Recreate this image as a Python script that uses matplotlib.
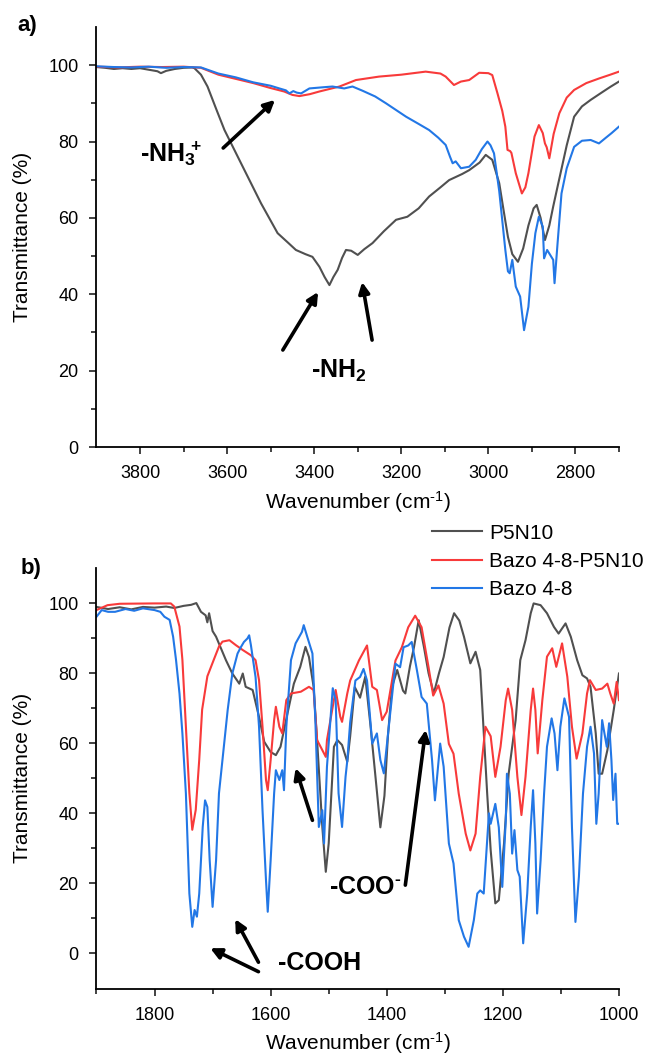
import numpy as np
import matplotlib
matplotlib.use('Agg')
import matplotlib.pyplot as plt
from matplotlib.ticker import FixedLocator

plt.rcParams['font.family'] = ['Liberation Sans', 'DejaVu Sans']
plt.rcParams['mathtext.default'] = 'regular'

# ---- panel a) 3900-2700 cm-1 ----
wn_a_p5n10 = [3900, 3880, 3860, 3840, 3820, 3800, 3780, 3760, 3752, 3740, 3720, 3700, 3680, 3675,
              3660, 3645, 3625, 3606, 3568, 3522, 3484, 3460, 3442, 3420, 3404, 3388, 3376, 3365,
              3356, 3346, 3336, 3327, 3315, 3300, 3285, 3266, 3240, 3212, 3186, 3160, 3136, 3110,
              3090, 3060, 3044, 3020, 3006, 2991, 2975, 2965, 2955, 2945, 2932, 2920, 2908, 2896,
              2889, 2880, 2870, 2860, 2851, 2841, 2820, 2803, 2785, 2765, 2740, 2720, 2700]
t_a_p5n10 = [99.5, 99.3, 99.0, 99.2, 99.0, 99.2, 98.8, 98.4, 97.9, 98.5, 99.0, 99.3, 99.4, 99.2,
             97.5, 94.4, 88.5, 83.0, 74.3, 63.8, 56.0, 53.5, 51.6, 50.5, 49.8, 47.2, 44.5, 42.4,
             44.5, 46.4, 49.5, 51.6, 51.4, 50.3, 51.8, 53.4, 56.5, 59.5, 60.3, 62.5, 65.6, 68.0,
             69.9, 71.5, 72.5, 74.5, 76.5, 75.2, 69.1, 62.0, 55.0, 50.5, 48.5, 52.0, 58.0, 62.5,
             63.4, 60.0, 54.2, 58.0, 63.0, 68.2, 79.0, 86.5, 89.2, 90.9, 92.8, 94.3, 95.7]

wn_a_mix = [3900, 3850, 3800, 3750, 3700, 3660, 3620, 3580, 3540, 3500, 3469, 3450, 3434, 3410,
            3388, 3342, 3304, 3251, 3200, 3144, 3110, 3098, 3079, 3063, 3044, 3021, 3000, 2991,
            2979, 2968, 2961, 2956, 2950, 2947, 2937, 2923, 2915, 2908, 2894, 2884, 2875, 2870,
            2866, 2860, 2850, 2837, 2820, 2803, 2775, 2746, 2720, 2700]
t_a_mix = [99.6, 99.4, 99.6, 99.5, 99.6, 99.3, 97.5, 96.4, 95.3, 94.0, 93.1, 92.2, 91.9, 92.4,
           93.1, 94.4, 96.1, 97.0, 97.5, 98.3, 97.8, 97.0, 94.8, 95.7, 96.1, 98.0, 97.9, 97.4,
           92.6, 88.0, 83.9, 77.8, 77.5, 77.0, 71.7, 66.4, 68.0, 71.7, 81.3, 84.3, 82.2, 79.5,
           78.5, 75.6, 82.0, 87.4, 91.5, 93.5, 95.3, 96.5, 97.5, 98.3]

wn_a_bazo = [3900, 3860, 3820, 3780, 3740, 3700, 3660, 3620, 3580, 3540, 3500, 3480, 3465, 3457,
             3448, 3440, 3430, 3411, 3380, 3358, 3331, 3312, 3289, 3260, 3235, 3189, 3160, 3136,
             3115, 3098, 3088, 3082, 3075, 3063, 3044, 3029, 3015, 3002, 2995, 2987, 2975, 2961,
             2955, 2951, 2945, 2937, 2927, 2918, 2908, 2900, 2892, 2884, 2875, 2872, 2865, 2851,
             2848, 2841, 2832, 2820, 2803, 2785, 2765, 2746, 2730, 2717, 2700]
t_a_bazo = [99.7, 99.5, 99.4, 99.6, 99.3, 99.5, 99.4, 97.8, 96.8, 95.5, 94.6, 93.9, 93.4, 92.6,
            93.2, 92.8, 92.6, 93.9, 94.2, 94.4, 93.9, 94.4, 93.3, 91.8, 90.0, 86.5, 84.6, 83.0,
            81.0, 79.1, 76.0, 74.3, 74.8, 73.0, 73.4, 75.2, 78.0, 80.0, 79.0, 76.9, 67.0, 51.6,
            46.0, 45.5, 49.0, 42.0, 39.4, 30.6, 36.7, 48.0, 56.0, 60.3, 57.7, 49.4, 51.6, 49.0,
            42.9, 53.4, 66.4, 73.0, 78.6, 80.2, 80.4, 79.5, 81.0, 82.2, 83.9]

# ---- panel b) 1900-1000 cm-1 ----
wn_b_p5n10 = [1900, 1880, 1860, 1840, 1820, 1800, 1780, 1766, 1750, 1737, 1728, 1720, 1712, 1709,
              1706, 1700, 1694, 1677, 1666, 1654, 1648, 1643, 1631, 1620, 1611, 1600, 1591, 1583,
              1571, 1560, 1549, 1540, 1534, 1526, 1520, 1511, 1505, 1500, 1491, 1485, 1477, 1468,
              1463, 1455, 1446, 1437, 1428, 1418, 1411, 1404, 1398, 1391, 1382, 1372, 1368, 1360,
              1353, 1345, 1336, 1328, 1319, 1310, 1302, 1292, 1284, 1275, 1267, 1256, 1247, 1239,
              1227, 1221, 1213, 1207, 1198, 1190, 1178, 1170, 1161, 1152, 1147, 1135, 1124, 1112,
              1104, 1092, 1083, 1072, 1063, 1055, 1049, 1040, 1035, 1029, 1020, 1009, 1000]
t_b_p5n10 = [98.9, 98.3, 98.8, 98.2, 98.9, 98.7, 99.0, 98.6, 99.2, 99.5, 100.0, 97.5, 96.5, 94.5,
             97.1, 92.0, 90.4, 83.7, 79.9, 77.0, 79.9, 76.1, 75.2, 67.5, 60.4, 57.5, 56.6, 59.0,
             68.5, 77.0, 81.8, 87.5, 84.6, 76.1, 60.9, 36.1, 23.3, 31.4, 59.0, 60.9, 59.5, 54.7,
             62.0, 76.0, 73.0, 79.0, 65.0, 48.0, 36.0, 45.0, 62.0, 76.0, 80.9, 75.0, 74.2, 82.0,
             87.5, 95.1, 87.5, 80.0, 74.2, 80.0, 84.6, 93.0, 97.1, 95.0, 90.4, 82.8, 86.1, 80.9,
             45.6, 29.5, 14.3, 15.2, 31.4, 51.3, 66.6, 83.7, 89.4, 97.1, 99.9, 99.4, 97.1, 93.2,
             91.3, 94.2, 90.4, 83.7, 79.4, 78.5, 76.1, 62.8, 51.3, 51.3, 58.0, 69.5, 79.9]

wn_b_mix = [1900, 1881, 1860, 1800, 1772, 1766, 1757, 1752, 1746, 1740, 1735, 1729, 1723, 1718,
            1709, 1698, 1689, 1683, 1671, 1660, 1648, 1634, 1626, 1620, 1614, 1608, 1605, 1600,
            1594, 1591, 1585, 1580, 1573, 1565, 1548, 1534, 1526, 1520, 1514, 1505, 1503, 1494,
            1488, 1480, 1477, 1468, 1463, 1448, 1434, 1425, 1417, 1408, 1400, 1385, 1374, 1363,
            1351, 1340, 1328, 1320, 1311, 1302, 1293, 1285, 1276, 1264, 1256, 1247, 1239, 1230,
            1221, 1213, 1204, 1195, 1191, 1184, 1175, 1168, 1161, 1152, 1148, 1144, 1140, 1132,
            1124, 1115, 1108, 1098, 1089, 1081, 1073, 1063, 1055, 1050, 1040, 1029, 1020, 1015,
            1009, 1004, 1000]
t_b_mix = [98.0, 99.4, 99.8, 99.9, 99.9, 99.0, 93.3, 83.8, 64.8, 45.8, 35.3, 41.0, 55.3, 69.6,
           79.1, 83.8, 87.6, 89.0, 89.4, 88.0, 86.6, 85.1, 83.7, 78.0, 64.7, 49.5, 46.6, 55.2,
           66.6, 70.4, 64.7, 62.8, 72.3, 74.2, 74.7, 76.1, 75.2, 60.9, 59.0, 56.1, 60.9, 69.5,
           75.2, 67.5, 66.1, 74.2, 77.9, 83.6, 87.9, 76.1, 75.2, 66.6, 69.0, 83.6, 87.4, 93.1,
           96.4, 93.1, 81.7, 73.6, 76.5, 71.3, 59.8, 57.0, 45.6, 34.2, 29.4, 34.2, 50.4, 64.7,
           62.0, 50.4, 59.0, 72.3, 75.6, 69.5, 50.4, 39.5, 50.4, 69.5, 75.6, 69.5, 57.1, 72.3,
           84.7, 87.1, 81.8, 88.5, 79.0, 64.7, 55.6, 62.8, 74.2, 78.0, 75.2, 75.6, 77.0, 74.2,
           71.3, 77.5, 72.3]

wn_b_bazo = [1900, 1891, 1880, 1868, 1850, 1835, 1820, 1800, 1790, 1783, 1774, 1768, 1763, 1757,
             1752, 1746, 1743, 1740, 1735, 1731, 1727, 1723, 1717, 1713, 1709, 1705, 1700, 1694,
             1689, 1683, 1674, 1666, 1657, 1651, 1646, 1640, 1637, 1634, 1626, 1620, 1614, 1608,
             1605, 1600, 1594, 1591, 1585, 1580, 1577, 1573, 1565, 1557, 1546, 1543, 1537, 1528,
             1523, 1517, 1511, 1508, 1503, 1497, 1493, 1488, 1483, 1477, 1471, 1468, 1463, 1454,
             1446, 1440, 1434, 1425, 1417, 1411, 1405, 1394, 1385, 1377, 1371, 1363, 1357, 1348,
             1340, 1331, 1322, 1317, 1308, 1302, 1293, 1285, 1276, 1267, 1259, 1250, 1244, 1239,
             1233, 1224, 1221, 1213, 1207, 1201, 1195, 1193, 1188, 1184, 1180, 1175, 1171, 1165,
             1158, 1152, 1148, 1144, 1141, 1135, 1129, 1124, 1116, 1111, 1106, 1101, 1094, 1086,
             1081, 1075, 1069, 1062, 1055, 1049, 1043, 1039, 1035, 1029, 1025, 1021, 1017, 1013,
             1010, 1006, 1003, 1001]
t_b_bazo = [96.1, 98.0, 97.5, 97.5, 98.3, 97.8, 98.5, 98.0, 97.5, 96.1, 95.2, 90.4, 83.8, 74.2,
            62.8, 45.7, 31.4, 17.1, 7.6, 12.4, 10.5, 17.1, 36.1, 43.7, 41.8, 26.6, 13.3, 26.6,
            45.7, 55.2, 69.5, 79.9, 85.6, 87.5, 88.9, 89.9, 90.8, 88.0, 78.9, 64.7, 40.9, 20.9,
            11.9, 26.6, 45.7, 52.3, 49.5, 52.3, 46.6, 64.7, 83.7, 88.5, 91.8, 93.7, 90.4, 85.6,
            66.6, 36.1, 40.9, 31.4, 53.3, 66.6, 75.7, 72.3, 45.7, 36.1, 50.4, 55.0, 66.0, 77.9,
            78.9, 81.2, 77.9, 59.9, 62.8, 55.2, 51.4, 68.5, 82.7, 81.7, 87.4, 87.9, 88.9, 80.8,
            73.2, 71.3, 55.2, 43.7, 59.9, 53.3, 31.4, 25.7, 9.5, 4.8, 1.9, 9.5, 17.1, 18.0,
            17.1, 40.0, 37.0, 42.7, 36.0, 19.0, 37.9, 51.3, 45.6, 28.5, 35.2, 23.8, 21.9, 2.9,
            17.1, 36.1, 46.6, 31.4, 11.4, 26.6, 45.6, 59.0, 67.1, 62.8, 52.3, 64.7, 72.8, 67.5,
            36.1, 9.0, 21.9, 45.6, 59.0, 64.7, 57.1, 37.0, 45.6, 66.6, 62.8, 59.0, 65.7, 55.2,
            43.8, 51.3, 37.0, 37.0]

labels = ['P5N10', 'Bazo 4-8-P5N10', 'Bazo 4-8']
colors = ['#505050', '#f83a3a', '#2277e6']

fig = plt.figure(figsize=(6.51, 10.57), dpi=100)
ax_a = fig.add_axes([0.1482, 0.5771, 0.8026, 0.3974])
ax_b = fig.add_axes([0.1482, 0.0648, 0.8026, 0.3978])

ax_a.plot(wn_a_p5n10, t_a_p5n10, color=colors[0], lw=1.5)
ax_a.plot(wn_a_mix, t_a_mix, color=colors[1], lw=1.5)
ax_a.plot(wn_a_bazo, t_a_bazo, color=colors[2], lw=1.5)

lines = []
lines += ax_b.plot(wn_b_p5n10, t_b_p5n10, color=colors[0], lw=1.5)
lines += ax_b.plot(wn_b_mix, t_b_mix, color=colors[1], lw=1.5)
lines += ax_b.plot(wn_b_bazo, t_b_bazo, color=colors[2], lw=1.5)

ax_a.set_xlim(3900, 2700)
ax_a.set_ylim(0, 110)
ax_a.set_xticks([3800, 3600, 3400, 3200, 3000, 2800])
ax_a.xaxis.set_minor_locator(FixedLocator([3700, 3500, 3300, 3100, 2900, 2700]))
ax_b.set_xlim(1900, 1000)
ax_b.set_ylim(-10, 110)
ax_b.set_xticks([1800, 1600, 1400, 1200, 1000])
ax_b.xaxis.set_minor_locator(FixedLocator([1900, 1700, 1500, 1300, 1100]))

for ax in (ax_a, ax_b):
    ax.set_yticks([0, 20, 40, 60, 80, 100])
    ax.yaxis.set_minor_locator(FixedLocator([10, 30, 50, 70, 90]))
    for s in ['top', 'right']:
        ax.spines[s].set_visible(False)
    for s in ['left', 'bottom']:
        ax.spines[s].set_linewidth(1.3)
    ax.tick_params(which='major', direction='out', length=5, width=1.2, labelsize=13, pad=8,
                   color='#222222')
    ax.tick_params(which='minor', direction='out', length=3.5, width=1.2, color='#222222')
    ax.set_xlabel('Wavenumber (cm$^{\u2010 1}$)', fontsize=15, labelpad=5)
    ax.set_ylabel('Transmittance (%)', fontsize=15, labelpad=12)

fig.text(0.026, 0.976, 'a)', fontsize=16, fontweight='bold', va='center', ha='left')
fig.text(0.032, 0.4617, 'b)', fontsize=16, fontweight='bold', va='center', ha='left')

arrow = dict(arrowstyle='-|>', lw=2.6, color='k', mutation_scale=16, shrinkA=0, shrinkB=0)

ax_a.text(3729, 76.9, r'-NH$_3\!\!{}^+$', fontsize=18, fontweight='bold', ha='center', va='center')
ax_a.annotate('', xy=(3490, 90.9), xytext=(3609, 78.3), arrowprops=arrow)
ax_a.text(3343, 19.9, '-NH$_2$', fontsize=18, fontweight='bold', ha='center', va='center')
ax_a.annotate('', xy=(3391, 40.6), xytext=(3472, 25.4), arrowprops=arrow)
ax_a.annotate('', xy=(3290, 43.2), xytext=(3267, 28.0), arrowprops=arrow)

ax_b.text(1516, -2.7, '-COOH', fontsize=18, fontweight='bold', ha='center', va='center')
ax_b.annotate('', xy=(1704, 1.5), xytext=(1621, -5.2), arrowprops=arrow)
ax_b.annotate('', xy=(1661, 9.8), xytext=(1621, -2.5), arrowprops=arrow)
ax_b.annotate('', xy=(1557, 52.9), xytext=(1528, 38.0), arrowprops=arrow)
ax_b.text(1437, 19.0, '-COO$^{\u2010}$', fontsize=18, fontweight='bold', ha='center', va='center')
ax_b.annotate('', xy=(1333, 63.8), xytext=(1368, 19.5), arrowprops=arrow)

fig.legend(lines, labels, loc='upper left', bbox_to_anchor=(0.663, 0.5045), frameon=False,
           fontsize=15, handlelength=2.4, handletextpad=0.35, labelspacing=0.45,
           borderpad=0, borderaxespad=0)

fig.savefig('out.png', dpi=100)
